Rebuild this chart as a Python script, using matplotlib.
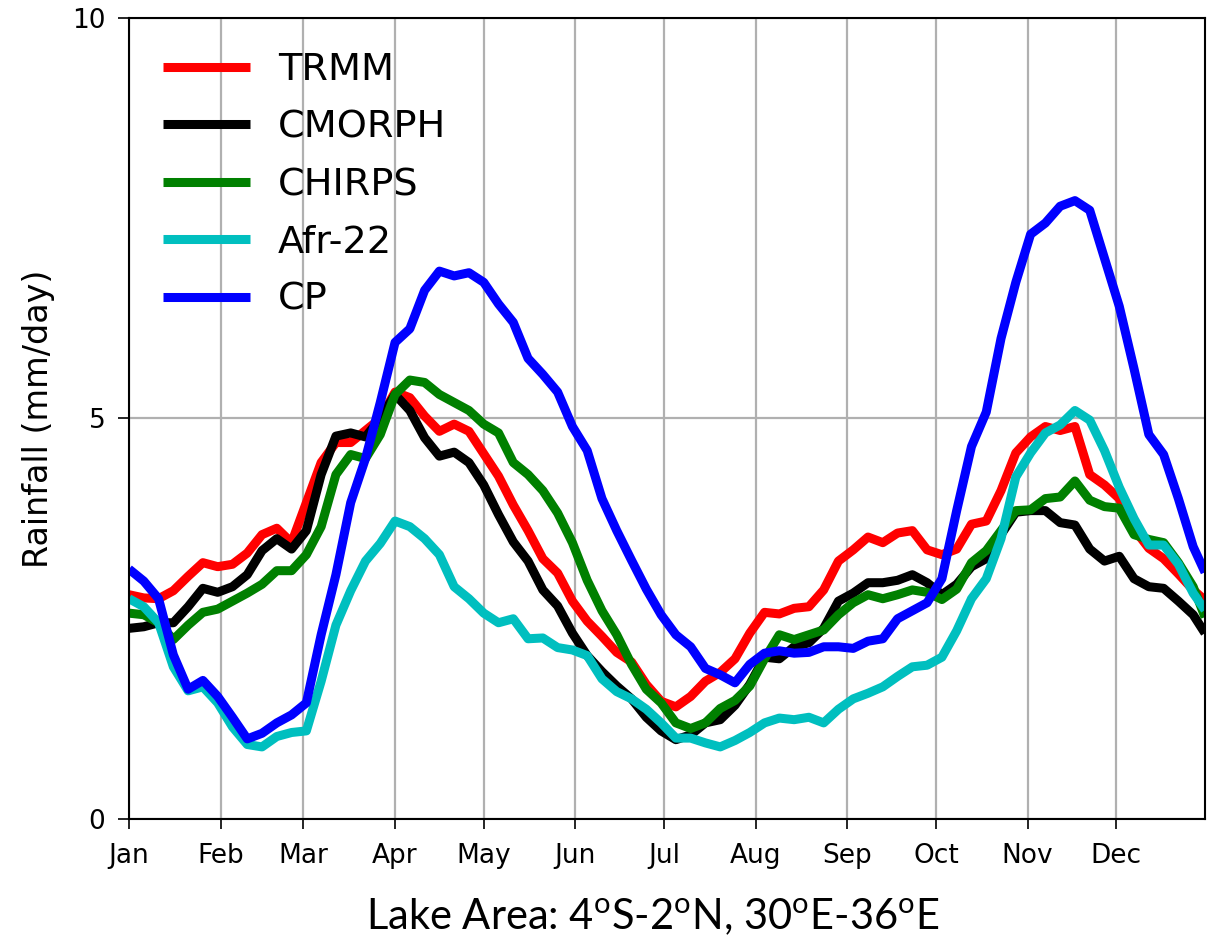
import matplotlib
matplotlib.use("Agg")
import matplotlib.pyplot as plt
import numpy as np

# Day-of-year sample points (every 5 days, plus the last day)
days = list(range(0, 365, 5)) + [364]

trmm = [2.80, 2.76, 2.75, 2.85, 3.03, 3.20, 3.15, 3.18, 3.32, 3.55,
        3.63, 3.45, 3.95, 4.45, 4.70, 4.70, 4.85, 5.00, 5.33, 5.26,
        5.03, 4.84, 4.93, 4.84, 4.56, 4.28, 3.92, 3.60, 3.25, 3.07,
        2.72, 2.47, 2.28, 2.08, 1.96, 1.68, 1.47, 1.40, 1.53, 1.72,
        1.83, 2.00, 2.32, 2.58, 2.56, 2.63, 2.65, 2.86, 3.22, 3.36,
        3.52, 3.45, 3.57, 3.60, 3.36, 3.30, 3.37, 3.68, 3.72, 4.10,
        4.57, 4.77, 4.90, 4.85, 4.90, 4.30, 4.17, 4.00, 3.62, 3.38,
        3.25, 3.06, 2.86, 2.73]

cmorph = [2.38, 2.40, 2.45, 2.45, 2.65, 2.88, 2.83, 2.90, 3.05, 3.35,
          3.50, 3.37, 3.60, 4.30, 4.78, 4.82, 4.77, 5.00, 5.30, 5.10,
          4.76, 4.53, 4.58, 4.45, 4.17, 3.80, 3.46, 3.22, 2.86, 2.66,
          2.32, 2.04, 1.84, 1.66, 1.50, 1.27, 1.10, 0.99, 1.05, 1.20,
          1.24, 1.42, 1.68, 2.02, 2.00, 2.15, 2.20, 2.38, 2.72, 2.82,
          2.95, 2.95, 2.98, 3.05, 2.95, 2.80, 2.93, 3.15, 3.25, 3.55,
          3.83, 3.85, 3.85, 3.70, 3.67, 3.37, 3.22, 3.28, 3.00, 2.90,
          2.88, 2.72, 2.55, 2.32]

chirps = [2.57, 2.55, 2.45, 2.24, 2.42, 2.58, 2.62, 2.72, 2.82, 2.93,
          3.10, 3.10, 3.30, 3.65, 4.30, 4.55, 4.50, 4.80, 5.30, 5.48,
          5.45, 5.30, 5.20, 5.10, 4.93, 4.82, 4.45, 4.30, 4.10, 3.82,
          3.45, 2.98, 2.60, 2.30, 1.93, 1.62, 1.45, 1.20, 1.13, 1.20,
          1.38, 1.48, 1.66, 2.00, 2.30, 2.24, 2.30, 2.36, 2.55, 2.70,
          2.80, 2.75, 2.80, 2.86, 2.83, 2.74, 2.87, 3.20, 3.35, 3.60,
          3.85, 3.86, 4.00, 4.02, 4.22, 3.98, 3.90, 3.88, 3.55, 3.49,
          3.45, 3.20, 2.90, 2.52]

afr22 = [2.75, 2.65, 2.45, 1.90, 1.60, 1.65, 1.45, 1.15, 0.93, 0.90,
         1.03, 1.08, 1.10, 1.72, 2.42, 2.85, 3.22, 3.44, 3.72, 3.65,
         3.50, 3.30, 2.90, 2.75, 2.57, 2.45, 2.50, 2.25, 2.26, 2.14,
         2.11, 2.04, 1.75, 1.59, 1.50, 1.37, 1.20, 1.01, 1.01, 0.95,
         0.90, 0.98, 1.08, 1.20, 1.26, 1.24, 1.27, 1.20, 1.37, 1.50,
         1.57, 1.65, 1.78, 1.90, 1.92, 2.02, 2.35, 2.75, 3.00, 3.50,
         4.27, 4.57, 4.82, 4.92, 5.10, 4.98, 4.60, 4.14, 3.75, 3.42,
         3.42, 3.18, 2.82, 2.61]

cp = [3.12, 2.97, 2.75, 2.05, 1.62, 1.73, 1.53, 1.27, 1.00, 1.07,
      1.20, 1.30, 1.45, 2.30, 3.05, 3.95, 4.50, 5.20, 5.95, 6.12,
      6.60, 6.84, 6.78, 6.82, 6.70, 6.43, 6.20, 5.75, 5.55, 5.33,
      4.90, 4.60, 4.00, 3.60, 3.23, 2.87, 2.55, 2.30, 2.15, 1.88,
      1.80, 1.70, 1.93, 2.07, 2.10, 2.07, 2.08, 2.15, 2.15, 2.13,
      2.22, 2.25, 2.50, 2.60, 2.70, 3.00, 3.85, 4.65, 5.08, 6.00,
      6.70, 7.30, 7.44, 7.65, 7.72, 7.60, 7.00, 6.40, 5.62, 4.80,
      4.55, 4.00, 3.40, 3.08]

series_names = ["TRMM", "CMORPH", "CHIRPS", "Afr-22", "CP"]
series_colors = ["#ff0000", "#000000", "#008000", "#00bfbf", "#0000ff"]

month_starts = [0, 31, 59, 90, 120, 151, 181, 212, 243, 273, 304, 334]
month_labels = ["Jan", "Feb", "Mar", "Apr", "May", "Jun",
                "Jul", "Aug", "Sep", "Oct", "Nov", "Dec"]

plt.rcParams["font.family"] = ["DejaVu Sans"]
plt.rcParams["mathtext.fontset"] = "custom"
plt.rcParams["mathtext.rm"] = "Lato"

fig = plt.figure(figsize=(12.11, 9.39), dpi=100)
ax = fig.add_axes([129 / 1211, 1 - 819 / 939, (1205 - 129) / 1211, (819 - 18) / 939])

for vals, name, col in zip([trmm, cmorph, chirps, afr22, cp], series_names, series_colors):
    ax.plot(days, vals, color=col, lw=6.5, label=name,
            solid_joinstyle="round", solid_capstyle="butt")

ax.set_xlim(0, 364)
ax.set_ylim(0, 10)
ax.set_xticks(month_starts)
ax.set_xticklabels(month_labels)
ax.set_yticks([0, 5, 10])
ax.grid(True, color="#b0b0b0", lw=1.6)
ax.set_axisbelow(True)
ax.tick_params(axis="x", labelsize=19, length=7, width=1.2, pad=10)
ax.tick_params(axis="y", labelsize=19, length=8, width=1.2, pad=9)
for sp in ax.spines.values():
    sp.set_linewidth(1.5)

ax.set_ylabel("Rainfall (mm/day)", fontsize=24, labelpad=12)

leg = ax.legend(loc="upper left", frameon=False, fontsize=27.5,
                handlelength=2.27, handletextpad=0.73, labelspacing=0.56,
                borderaxespad=0.45, borderpad=0.45)

fig.text(0.539, 9 / 939,
         r"Lake Area: 4$^\mathrm{o}$S-2$^\mathrm{o}$N, 30$^\mathrm{o}$E-36$^\mathrm{o}$E",
         fontsize=30, family="Lato", ha="center", va="baseline")

fig.savefig("out.png", dpi=100)
